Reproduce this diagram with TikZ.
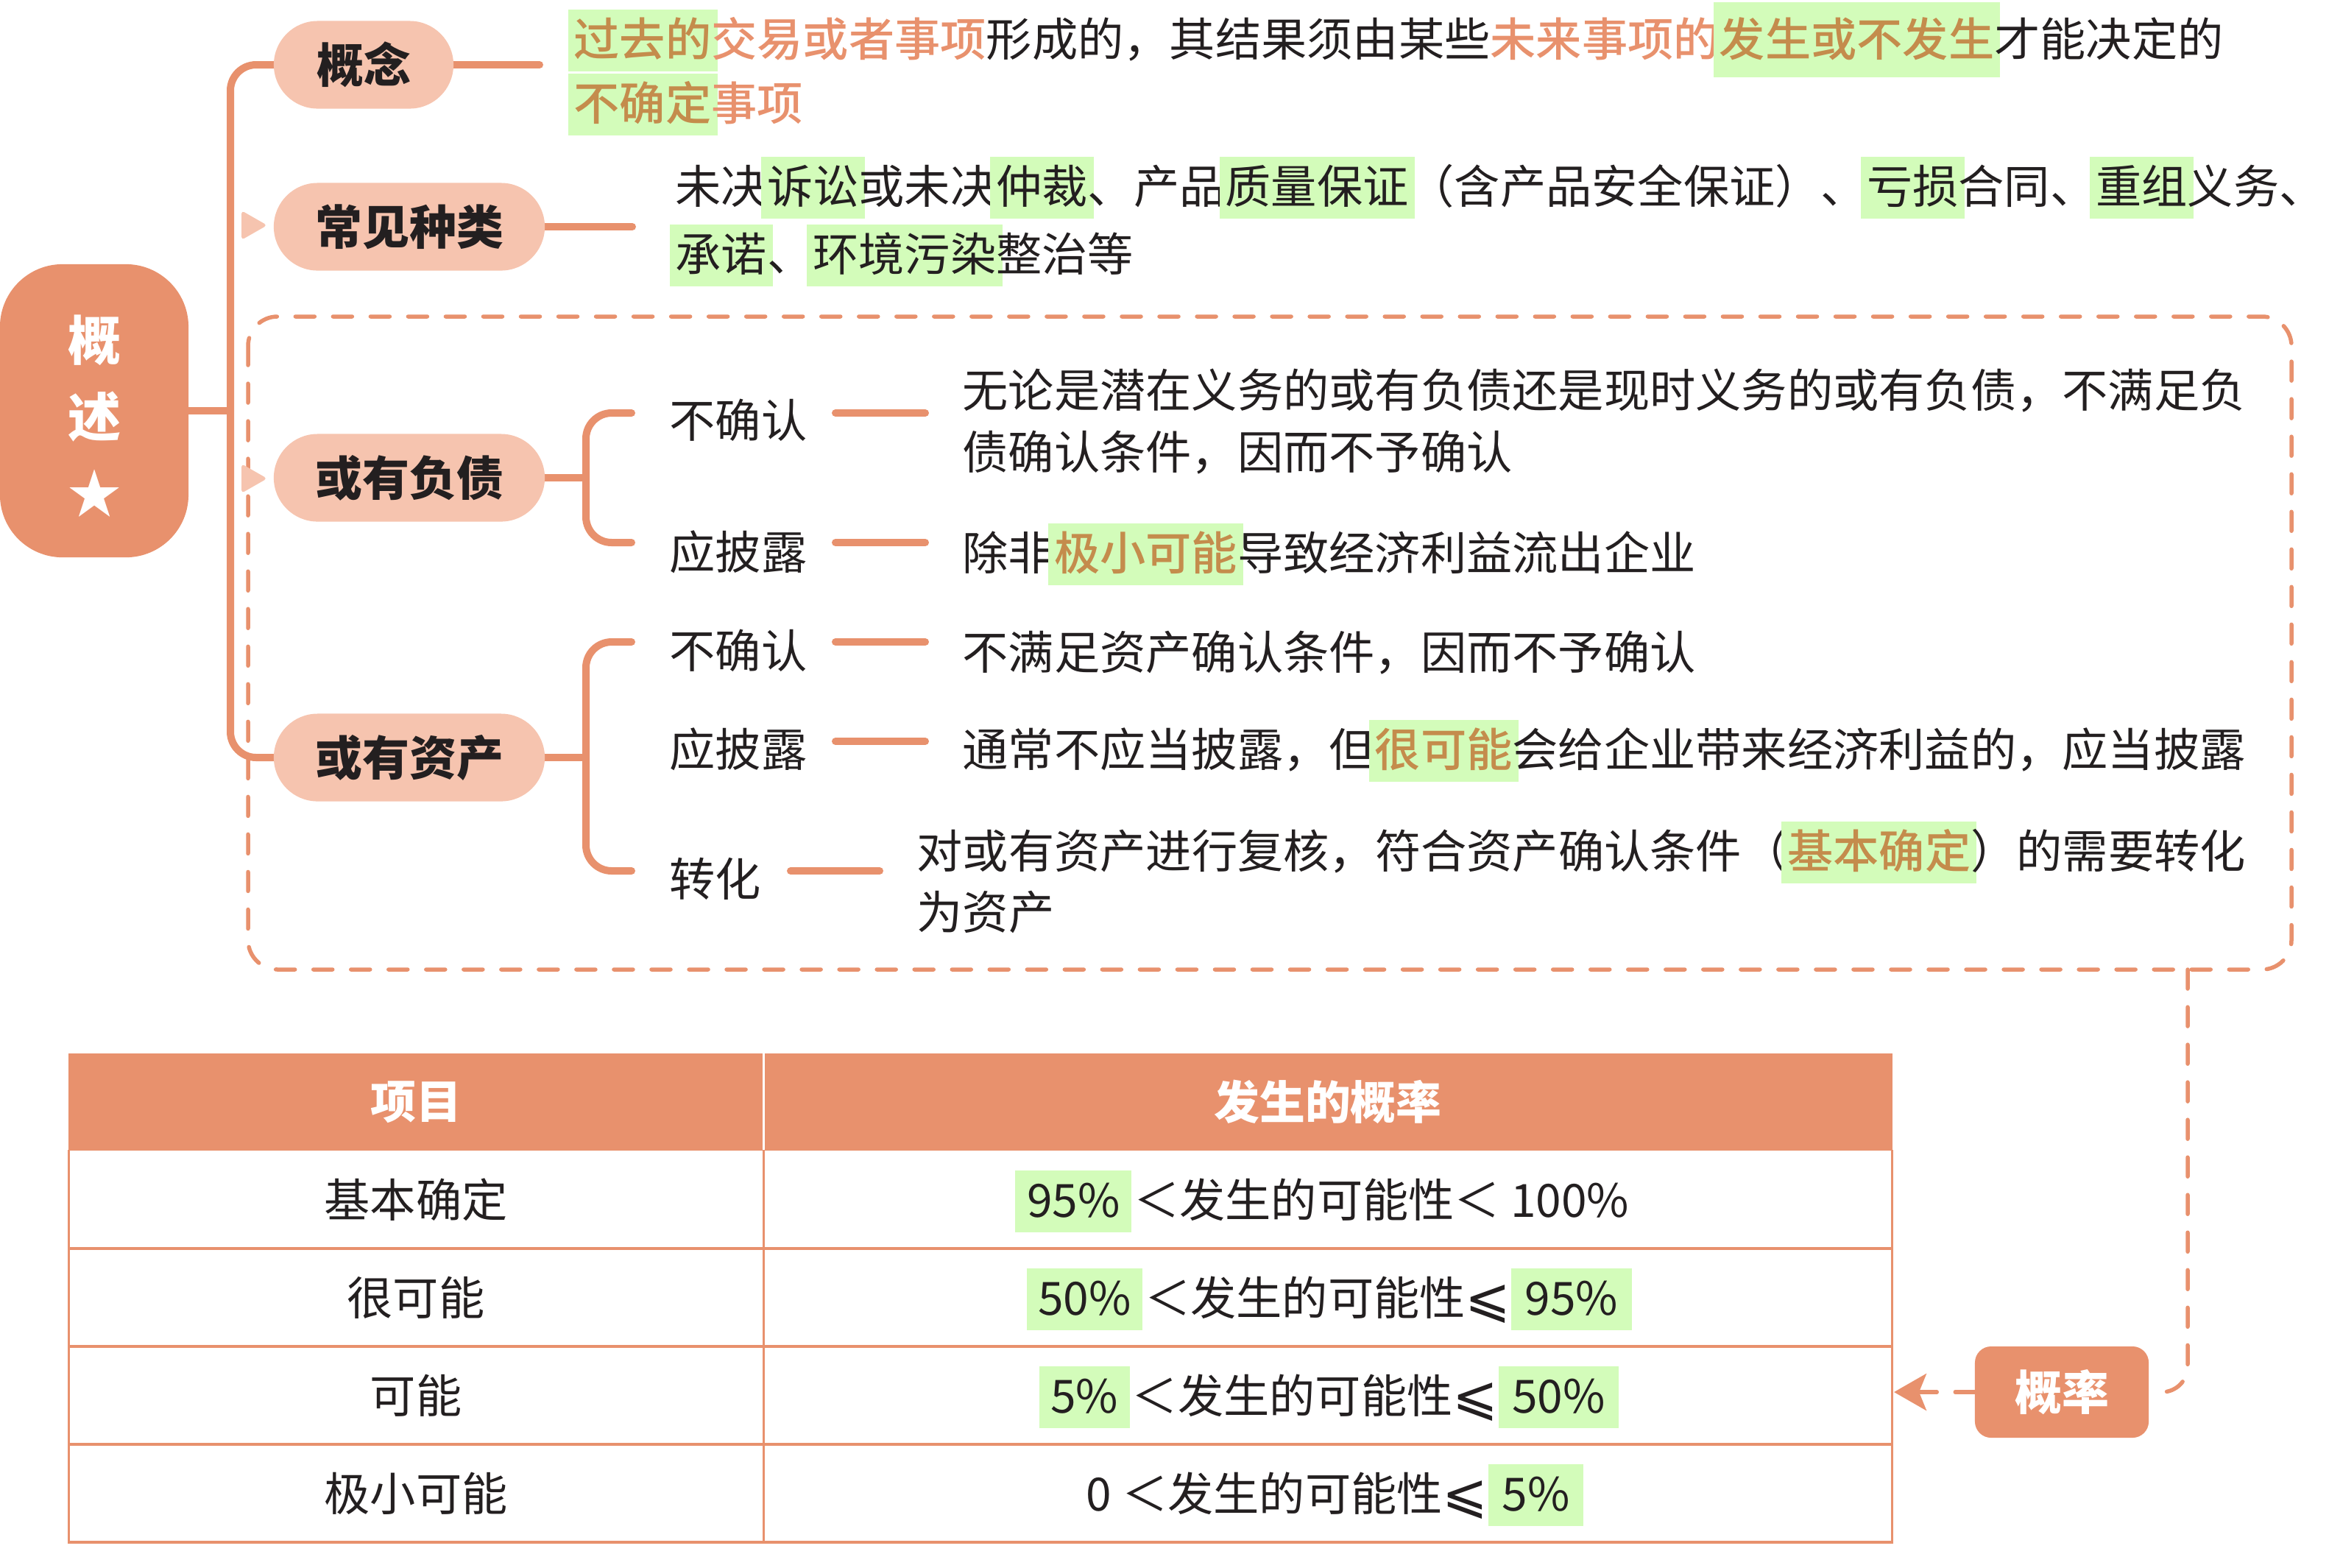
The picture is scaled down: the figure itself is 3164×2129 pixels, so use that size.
\documentclass[tikz,border=0pt]{standalone}
\usepackage{fontspec}
\setmainfont{Noto Sans CJK SC}
\newfontfamily\medfont{Noto Sans CJK SC Medium}
\newfontfamily\djv{DejaVu Sans}
\usetikzlibrary{arrows.meta}
\definecolor{org}{HTML}{E8916D}
\definecolor{peach}{HTML}{F6C4AF}
\definecolor{hlg}{HTML}{D3FCBA}
\definecolor{brn}{HTML}{C48C4C}
\definecolor{ink}{HTML}{231F20}
\newcommand\txtfont{\fontsize{17.7pt}{21pt}\selectfont}
\newcommand\lblfont{\fontsize{18.2pt}{22pt}\selectfont\bfseries}
\newcommand\rootfont{\fontsize{20.5pt}{24pt}\selectfont\bfseries}
\newcommand\hdrfont{\fontsize{17.6pt}{21pt}\selectfont\bfseries}
\newcommand\hl[2][0.13em]{\setbox0\hbox{#2}\rlap{\kern-#1\textcolor{hlg}{\rule[-0.33em]{\dimexpr\wd0+#1+#1\relax}{1.35em}}}\box0}
\newcommand\hlt[2][0.13em]{\setbox0\hbox{#2}\rlap{\kern-#1\textcolor{hlg}{\rule[-0.47em]{\dimexpr\wd0+#1+#1\relax}{1.65em}}}\box0}
\newcommand\ob[1]{{\medfont\color{org}#1}}
\newcommand\bb[1]{{\medfont\color{brn}#1}}
\newcommand\slleq{{\djv\fontsize{21pt}{21pt}\selectfont\raisebox{-0.03em}{⩽}}}
\pgfdeclarelayer{bg}
\pgfsetlayers{bg,main}
\begin{document}
\begin{tikzpicture}[x=0.01cm,y=-0.01cm,
  conn/.style={draw=org, line width=0.1cm, line cap=round},
  dline/.style={draw=org, line width=0.055cm, line cap=round, dash pattern=on 0.26cm off 0.25cm},
  pill/.style={fill=peach, rounded corners=0.595cm, minimum height=1.19cm, inner sep=0pt, font=\lblfont, text=ink},
  txt/.style={anchor=base west, inner sep=0pt, font=\txtfont, text=ink},
  ctxt/.style={anchor=base, inner sep=0pt, font=\txtfont, text=ink},
  hdr/.style={inner sep=0pt, font=\hdrfont, text=white},
  tline/.style={draw=org, line width=0.03cm},
  rline/.style={draw=org, line width=0.045cm},
]
\useasboundingbox (0,0) rectangle (3164,2129);

% dashed frame
\draw[dline, rounded corners=0.4cm] (337,430) rectangle (3113,1317);

% root
\node[fill=org, rounded corners=0.85cm, minimum width=2.56cm, minimum height=3.98cm, inner sep=0pt] (root) at (128,558) {};
\node[font=\rootfont, text=white, inner sep=0pt] (r1) at (129,462) {概};
\node[font=\rootfont, text=white, inner sep=0pt] (r2) at (129,566) {述};
\node[font=\rootfont, text=white, inner sep=0pt] (r3) at (129,670) {★};

% branch nodes
\node[pill, minimum width=2.44cm] (gn) at (494,88) {概念};
\node[pill, minimum width=3.68cm] (cj) at (556,308) {常见种类};
\node[pill, minimum width=3.68cm] (fz) at (556,649) {或有负债};
\node[pill, minimum width=3.68cm] (zc) at (556,1029) {或有资产};

% collapse markers
\fill[peach, rounded corners=0.045cm] (328,286) -- (363,306) -- (328,326) -- cycle;
\fill[peach, rounded corners=0.045cm] (328,630) -- (363,650) -- (328,670) -- cycle;

% connectors
\coordinate (tk) at (313,558);
\coordinate (gnE) at (733,88);
\coordinate (cjE) at (859,308);
\coordinate (fzJ) at (796,649);
\coordinate (fzT) at (858,561);
\coordinate (fzB) at (858,737);
\coordinate (zcJ) at (796,1029);
\coordinate (zcT) at (858,872);
\coordinate (zcB) at (858,1183);
\coordinate (s1a) at (1135,561);  \coordinate (s1b) at (1257,561);
\coordinate (s2a) at (1135,737);  \coordinate (s2b) at (1257,737);
\coordinate (s3a) at (1135,872);  \coordinate (s3b) at (1257,872);
\coordinate (s4a) at (1135,1007); \coordinate (s4b) at (1257,1007);
\coordinate (s5a) at (1074,1183); \coordinate (s5b) at (1195,1183);
\begin{pgfonlayer}{bg}
\draw[conn] (root.east) -- (tk);
\draw[conn, rounded corners=0.35cm] (gn.west) -| (tk) |- (zc.west);
\draw[conn] (gn.east) -- (gnE);
\draw[conn] (cj.east) -- (cjE);
\draw[conn] (fz.east) -- (fzJ);
\draw[conn, rounded corners=0.35cm] (fzT) -| (fzJ) |- (fzB);
\draw[conn] (zc.east) -- (zcJ);
\draw[conn, rounded corners=0.35cm] (zcT) -| (zcJ) |- (zcB);
\end{pgfonlayer}
\draw[conn] (s1a) -- (s1b);
\draw[conn] (s2a) -- (s2b);
\draw[conn] (s3a) -- (s3b);
\draw[conn] (s4a) -- (s4b);
\draw[conn] (s5a) -- (s5b);

% texts
\node[txt] (g1) at (779,76) {\hl{\bb{过去的}}\ob{交易或者事项}形成的，其结果须由某些\ob{未来事项的}\hlt{\bb{发生或不发生}}才能决定的};
\node[txt] (g2) at (779,163) {\hl{\bb{不确定}}\ob{事项}};
\node[txt] (c1) at (917,276) {未决\hl{诉讼}或未决\hl{仲裁}、产品\hl{质量保证}（含产品安全保证）、\hl{亏损}合同、\hl{重组}义务、};
\node[txt] (c2) at (917,368) {\hl{承诺}、\hl{环境污染}整治等};

\node[txt] (l1) at (909,594) {不确认};
\node[txt] (l2) at (909,773) {应披露};
\node[txt] (l3) at (909,907) {不确认};
\node[txt] (l4) at (909,1041) {应披露};
\node[txt] (l5) at (909,1217) {转化};

\node[txt] (d1) at (1307,553) {无论是潜在义务的或有负债还是现时义务的或有负债，不满足负};
\node[txt] (d1b) at (1307,637) {债确认条件，因而不予确认};
\node[txt] (d2) at (1307,774) {除非\hl{\bb{极小可能}}导致经济利益流出企业};
\node[txt] (d3) at (1307,909) {不满足资产确认条件，因而不予确认};
\node[txt] (d4) at (1307,1041) {通常不应当披露，但\hl{\bb{很可能}}会给企业带来经济利益的，应当披露};
\node[txt] (d5) at (1245,1179) {对或有资产进行复核，符合资产确认条件（\hl{\bb{基本确定}}）的需要转化};
\node[txt] (d5b) at (1245,1262) {为资产};

% probability node and links
\node[fill=org, rounded corners=0.22cm, minimum width=2.36cm, minimum height=1.24cm, inner sep=0pt, font=\lblfont, text=white] (gl) at (2801,1891) {概率};
\coordinate (dbx) at (2972,1317);
\coordinate (tbR) at (2573,1891);
\draw[dline, rounded corners=0.35cm] (dbx) |- (gl.east);
\draw[dline, -{Stealth[length=0.44cm, width=0.5cm, inset=0.1cm]}] (gl.west) -- (tbR);

% table
\fill[org] (93,1431) rectangle (2571,1563);
\draw[white, line width=0.03cm] (1037,1431) -- (1037,1563);
\draw[tline] (93,1562) -- (93,2097);
\draw[tline] (1037,1562) -- (1037,2097);
\draw[tline] (2570,1562) -- (2570,2097);
\draw[rline] (93,1696) -- (2571,1696);
\draw[rline] (93,1829) -- (2571,1829);
\draw[rline] (93,1962) -- (2571,1962);
\draw[rline] (93,2095) -- (2571,2095);

\node[hdr] (h1) at (565,1497) {项目};
\node[hdr] (h2) at (1804,1497) {发生的概率};

\node[ctxt] (a1) at (565,1653) {基本确定};
\node[ctxt] (a2) at (565,1786) {很可能};
\node[ctxt] (a3) at (565,1919) {可能};
\node[ctxt] (a4) at (565,2052) {极小可能};

\node[ctxt] (b1) at (1804,1653) {\hl[0.25em]{95\%}\hspace{0.3em}＜发生的可能性＜ 100\%};
\node[ctxt] (b2) at (1804,1786) {\hl[0.25em]{50\%}\hspace{0.3em}＜发生的可能性\slleq\kern0.3em\hl[0.3em]{95\%}};
\node[ctxt] (b3) at (1804,1919) {\hl[0.25em]{5\%}\hspace{0.3em}＜发生的可能性\slleq\kern0.3em\hl[0.3em]{50\%}};
\node[ctxt] (b4) at (1804,2052) {0 ＜发生的可能性\slleq\kern0.3em\hl[0.3em]{5\%}};
\end{tikzpicture}
\end{document}
